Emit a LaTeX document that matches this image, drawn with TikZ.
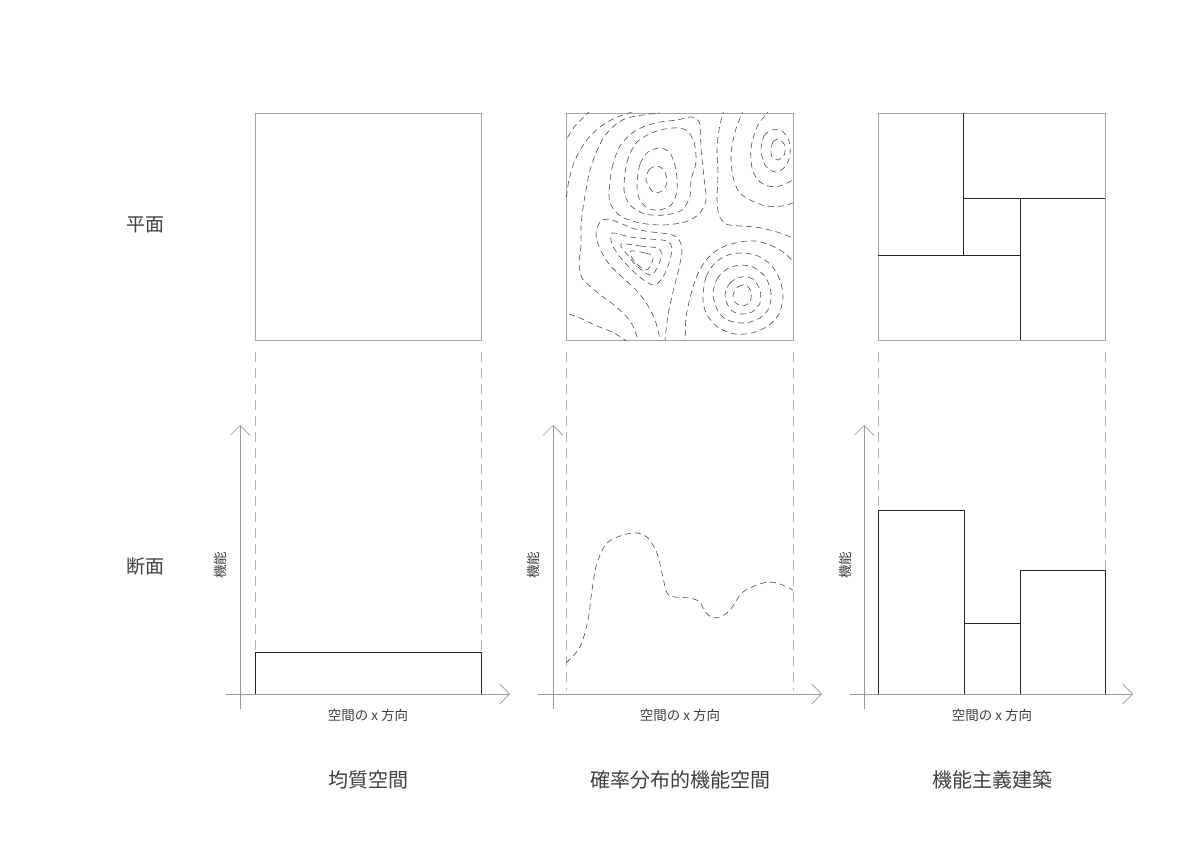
\documentclass[tikz,border=0pt]{standalone}
\usepackage{fontspec}
\setmainfont{Noto Sans CJK JP}
\usetikzlibrary{arrows.meta}
\begin{document}
\begin{tikzpicture}[x=1pt,y=-1pt,
  frame/.style={draw=black!35,line width=0.8pt},
  guide/.style={draw=black!30,line width=0.7pt,dash pattern=on 10pt off 6pt},
  contour/.style={draw=black!70,line width=0.6pt,dash pattern=on 6pt off 4pt},
  solidline/.style={draw=black!85,line width=0.9pt},
  axisline/.style={draw=black!40,line width=0.6pt,-{Straight Barb[length=10pt,width=20pt]}},
  rowlabel/.style={font=\fontsize{19}{19}\selectfont,text=black!75,inner sep=0pt},
  titlelabel/.style={font=\fontsize{20}{20}\selectfont,text=black!75,inner sep=0pt},
  axlabel/.style={font=\fontsize{13.5}{13.5}\selectfont,text=black!75,inner sep=0pt}]
\useasboundingbox (0,0) rectangle (1191,842);
\fill[white] (0,0) rectangle (1191,842);

% ---------- plan squares ----------
\draw[frame] (255,113) rectangle (481,340);
\draw[frame] (566,113) rectangle (793,340);
\draw[frame] (878,113) rectangle (1105,340);

% functionalist plan partitions
\draw[solidline] (963,113) -- (963,255);
\draw[solidline] (963,198) -- (1105,198);
\draw[solidline] (1020,198) -- (1020,340);
\draw[solidline] (878,255) -- (1020,255);

% ---------- contour map ----------
\begin{scope}
\clip (566,113) rectangle (793,340);
\draw[contour] plot[smooth] coordinates {(562,146) (566,140) (575,126) (588,113) (592,108)};
\draw[contour] plot[smooth] coordinates {(562,206) (566,198) (569,180) (575,160) (586,141) (600,127) (615,118) (632,112) (640,109)};
\draw[contour] plot[smooth] coordinates {(664,110) (656,113) (643,115) (627,118) (615,125) (604,137) (596,153) (590,170) (586,190) (583,208) (581,226) (581,246) (579,263) (582,278) (592,288) (603,297) (614,305) (625,315) (633,326) (638,340) (640,346)};
\draw[contour] plot[smooth] coordinates {(560,310) (566,313) (580,318) (597,326) (612,332) (625,340) (632,346)};
\draw[contour] plot[smooth] coordinates {(658,346) (660,340) (655,320) (647,304) (636,290) (622,277) (609,264) (600,249) (596,234) (600,222) (608,219) (620,223) (635,229) (652,232) (668,234) (678,238) (682,250) (679,268) (673,292) (668,315) (665,340) (664,346)};
\draw[contour] plot[smooth cycle] coordinates {(612,233) (630,237) (650,239) (667,241) (672,248) (669,263) (663,277) (655,285) (645,281) (632,270) (620,257) (612,244)};
\draw[contour] plot[smooth cycle] coordinates {(621,244) (640,246) (657,248) (662,254) (658,266) (652,275) (644,272) (634,263) (626,253)};
\draw[contour] plot[smooth cycle] coordinates {(631,251) (645,253) (653,256) (651,265) (646,270) (638,265) (632,258)};
% peak A
\draw[contour] plot[smooth cycle] coordinates {(646,180) (649,170) (656,166) (664,170) (667,182) (662,191) (653,192)};
\draw[contour] plot[smooth cycle] coordinates {(637,185) (640,164) (648,152) (660,148) (670,153) (676,170) (677,190) (672,204) (660,210) (647,208) (639,198)};
\draw[contour] plot[smooth cycle] coordinates {(624,190) (627,162) (637,142) (654,132) (672,128) (686,130) (694,142) (696,162) (691,180) (690,196) (682,210) (665,215) (645,214) (630,205)};
\draw[contour] plot[smooth cycle] coordinates {(609,195) (612,168) (620,146) (635,131) (655,123) (677,120) (692,117) (700,124) (701,148) (704,178) (706,200) (699,214) (685,222) (663,225) (640,223) (622,217) (612,207)};
% middle / right open lines
\draw[contour] plot[smooth] coordinates {(725,108) (723,113) (719,130) (717,150) (718,175) (717,200) (719,215) (726,224) (740,226) (755,227) (770,230) (783,234) (793,238) (799,240)};
\draw[contour] plot[smooth] coordinates {(744,108) (742,113) (735,132) (731,155) (733,177) (739,192) (750,200) (766,206) (782,206) (793,203) (799,201)};
\draw[contour] plot[smooth] coordinates {(771,108) (767,113) (757,127) (751,148) (752,168) (758,180) (768,186) (780,186) (793,180) (799,177)};
% peak B
\draw[contour] plot[smooth cycle] coordinates {(761,150) (764,136) (772,130) (782,131) (789,141) (790,155) (785,167) (775,172) (765,165)};
\draw[contour] plot[smooth cycle] coordinates {(771,150) (773,142) (779,139) (785,146) (784,155) (778,160) (772,157)};
% peak C
\draw[contour] plot[smooth] coordinates {(684,346) (685,340) (686,318) (690,298) (696,278) (704,263) (713,253) (725,246) (740,242) (755,241) (770,245) (783,252) (793,261) (799,266)};
\draw[contour] plot[smooth cycle] coordinates {(703,295) (706,277) (715,263) (728,255) (743,253) (758,256) (771,265) (780,280) (783,297) (779,314) (768,326) (752,333) (735,334) (719,328) (709,318) (704,307)};
\draw[contour] plot[smooth cycle] coordinates {(713,295) (717,279) (727,269) (741,265) (755,268) (766,278) (771,293) (769,308) (760,318) (745,323) (730,321) (719,313)};
\draw[contour] plot[smooth cycle] coordinates {(725,295) (730,283) (741,277) (753,279) (760,290) (760,303) (752,312) (740,314) (730,309)};
\draw[contour] plot[smooth cycle] coordinates {(733,295) (738,287) (746,285) (751,292) (750,302) (742,306) (735,302)};
\end{scope}

% ---------- guide lines ----------
\draw[guide] (255,352) -- (255,652);
\draw[guide] (481,352) -- (481,652);
\draw[guide] (566,352) -- (566,690);
\draw[guide] (793,352) -- (793,690);
\draw[guide] (878,352) -- (878,510);
\draw[guide] (1105,352) -- (1105,570);

% ---------- axes ----------
\coordinate (ya1) at (240,709); \coordinate (yb1) at (240,425);
\coordinate (xa1) at (226,694); \coordinate (xb1) at (510,694);
\coordinate (ya2) at (553,709); \coordinate (yb2) at (553,425);
\coordinate (xa2) at (538,694); \coordinate (xb2) at (822,694);
\coordinate (ya3) at (864,709); \coordinate (yb3) at (864,425);
\coordinate (xa3) at (850,694); \coordinate (xb3) at (1133,694);
\draw[axisline] (ya1) -- (yb1);
\draw[axisline] (xa1) -- (xb1);
\draw[axisline] (ya2) -- (yb2);
\draw[axisline] (xa2) -- (xb2);
\draw[axisline] (ya3) -- (yb3);
\draw[axisline] (xa3) -- (xb3);

% ---------- sections ----------
\draw[solidline] (255,694) -- (255,652) -- (481,652) -- (481,694);
\draw[contour] plot[smooth] coordinates {(566,663) (580,647) (588,620) (592,590) (597,563) (607,543) (623,535) (637,533) (648,538) (657,553) (662,573) (667,593) (675,597) (690,598) (700,602) (704,610) (711,617) (720,617) (730,610) (743,592) (763,583) (777,583) (793,590)};
\draw[solidline] (878,694) -- (878,510) -- (964,510) -- (964,694);
\draw[solidline] (964,623) -- (1020,623);
\draw[solidline] (1020,694) -- (1020,570) -- (1105,570) -- (1105,694);

% ---------- labels ----------
\node[rowlabel] (plan) at (145,225) {平面};
\node[rowlabel] (sect) at (145,566) {断面};
\node[titlelabel] (t1) at (368,780) {均質空間};
\node[titlelabel] (t2) at (680,780) {確率分布的機能空間};
\node[titlelabel] (t3) at (992,780) {機能主義建築};
\node[axlabel] (xl1) at (368,715) {空間の x 方向};
\node[axlabel] (xl2) at (680,715) {空間の x 方向};
\node[axlabel] (xl3) at (992,715) {空間の x 方向};
\node[axlabel,rotate=90] (yl1) at (220,565) {機能};
\node[axlabel,rotate=90] (yl2) at (533,565) {機能};
\node[axlabel,rotate=90] (yl3) at (845,565) {機能};
\end{tikzpicture}
\end{document}
